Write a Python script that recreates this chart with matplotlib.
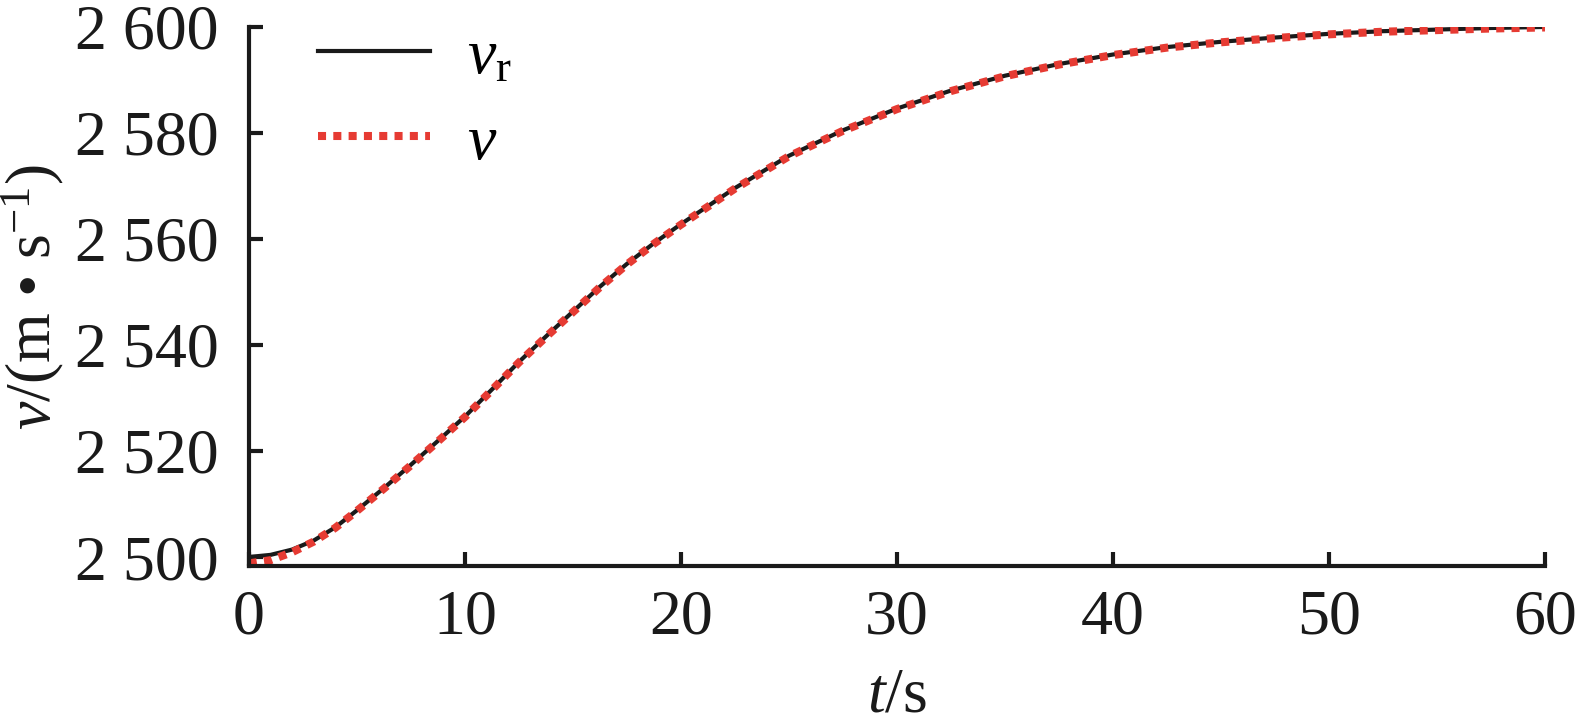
import matplotlib
matplotlib.use("Agg")
import matplotlib.pyplot as plt

plt.rcParams['font.family'] = ['Liberation Serif', 'DejaVu Serif']
plt.rcParams['mathtext.fontset'] = 'custom'
plt.rcParams['mathtext.rm'] = 'Liberation Serif'
plt.rcParams['mathtext.it'] = 'Liberation Serif:italic'

# time (s)
t = [0, 1, 2, 3, 4, 5, 6.25, 7.5, 8.75, 10, 11.25, 12.5, 13.75, 15, 16.25,
     17.5, 18.75, 20, 22.5, 25, 27.5, 30, 32.5, 35, 37.5, 40, 42.5, 45,
     47.5, 50, 52.5, 55, 57.5, 60]
# reference velocity v_r (m/s)
v_r = [2500.0, 2500.4, 2501.4, 2503.1, 2505.6, 2508.8, 2513.0, 2517.4, 2521.9,
       2526.5, 2531.6, 2536.8, 2541.6, 2546.3, 2551.0, 2555.3, 2559.2,
       2562.8, 2569.6, 2575.7, 2580.5, 2584.6, 2588.0, 2590.8, 2593.0,
       2594.8, 2596.2, 2597.2, 2598.0, 2598.7, 2599.2, 2599.5, 2599.8, 2600.0]
# actual velocity v (m/s)
v = [2498.8, 2499.4, 2500.9, 2502.9, 2505.5, 2508.7, 2512.9, 2517.3, 2521.8,
     2526.4, 2531.5, 2536.7, 2541.5, 2546.2, 2550.9, 2555.2, 2559.1,
     2562.7, 2569.5, 2575.6, 2580.4, 2584.5, 2587.9, 2590.7, 2592.9,
     2594.7, 2596.1, 2597.1, 2597.9, 2598.6, 2599.1, 2599.4, 2599.7, 2599.9]

xticks = [0, 10, 20, 30, 40, 50, 60]
yticks = [2500, 2520, 2540, 2560, 2580, 2600]
yticklabels = ['2 500', '2 520', '2 540', '2 560', '2 580', '2 600']

FS = 46

fig = plt.figure(figsize=(15.75, 7.28), dpi=100)
ax = fig.add_axes([0.158, 0.2225, 0.823, 0.7405])

ax.plot(t, v_r, color='#1a1a1a', lw=3.0, label=r'$v_{\mathrm{r}}$')
ax.plot(t, v, color='#e63b33', lw=5.8, dashes=(1.0, 0.9), dash_capstyle='butt',
        label=r'$v$')

ax.set_xlim(0, 60)
ax.set_ylim(2498.3, 2600)
ax.set_xticks(xticks)
ax.set_xticklabels([str(x) for x in xticks])
ax.set_yticks(yticks)
ax.set_yticklabels(yticklabels)

for side in ['top', 'right']:
    ax.spines[side].set_visible(False)
for side in ['left', 'bottom']:
    ax.spines[side].set_linewidth(3.0)
    ax.spines[side].set_color('#1a1a1a')

ax.tick_params(axis='both', direction='in', length=10, width=3.0, colors='#1a1a1a',
               labelsize=FS)
ax.tick_params(axis='x', pad=17)
ax.tick_params(axis='y', pad=22)

ax.set_xlabel(r'$t$/s', fontsize=FS, labelpad=14, color='#1a1a1a')
ax.set_ylabel('$v$/(m \u2022 s$^{-1}$)', fontsize=FS, labelpad=6, color='#1a1a1a')

ax.legend(loc='upper left', bbox_to_anchor=(0.034, 1.045), frameon=False, fontsize=FS,
          handlelength=1.74, handletextpad=0.58, labelspacing=0.42, borderaxespad=0)

fig.savefig('out.png', dpi=100)
